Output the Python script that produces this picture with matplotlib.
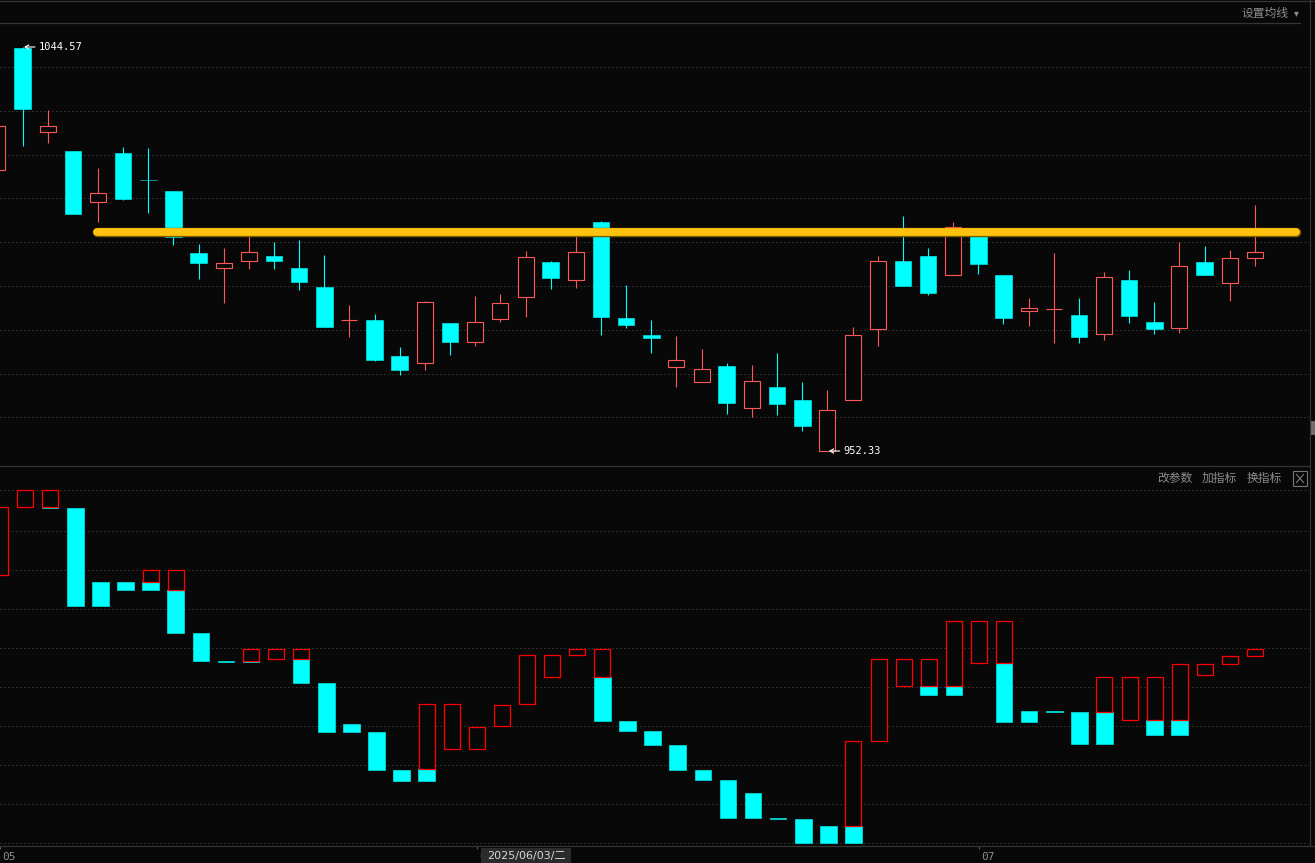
import numpy as np
import matplotlib
matplotlib.use("Agg")
import matplotlib.pyplot as plt
from matplotlib.lines import Line2D
from matplotlib.patches import Rectangle
import matplotlib.patheffects as pe

# daily K-line, bar index -1 .. 49 (2025-05-06 .. 2025-07-16)
opens = [1016.42, 1044.34, 1025.09, 1020.82, 1009.11, 1020.37, 1014.15, 1011.69, 997.54, 994.18,
         995.78, 996.85, 994.11, 989.77, 982.22, 982.24, 974.02, 972.35, 981.55, 977.28,
         982.40, 987.56, 995.48, 991.30, 1004.61, 982.70, 978.81, 971.58, 968.15, 971.74,
         962.22, 966.94, 963.97, 952.33, 963.90, 980.12, 995.71, 996.85, 992.44, 1003.02,
         992.51, 984.36, 984.73, 983.38, 978.97, 991.37, 981.78, 980.34, 995.48, 990.76,
         996.33]
highs = [1028.00, 1044.57, 1030.19, 1020.82, 1016.94, 1021.74, 1021.51, 1011.69, 999.59, 998.68,
         1001.65, 1000.05, 1000.50, 997.08, 985.66, 983.61, 976.07, 986.58, 981.55, 987.72,
         988.17, 997.99, 995.71, 1001.65, 1004.84, 990.23, 982.24, 978.59, 975.62, 972.42,
         971.96, 974.70, 968.08, 966.26, 980.64, 996.85, 1005.98, 998.68, 1004.61, 1003.02,
         992.51, 987.26, 997.54, 987.26, 993.20, 993.65, 986.35, 999.98, 999.13, 998.22,
         1008.43]
lows = [1015.00, 1022.03, 1022.72, 1006.51, 1004.68, 1009.64, 1006.74, 999.36, 991.60, 986.19,
        993.88, 993.88, 989.09, 980.71, 978.43, 972.95, 969.68, 970.82, 974.25, 976.37,
        981.78, 982.99, 989.32, 989.61, 978.81, 980.48, 974.70, 967.01, 968.15, 960.78,
        960.09, 960.55, 956.96, 952.33, 963.90, 976.37, 990.07, 988.02, 992.44, 992.81,
        981.39, 980.94, 977.06, 977.06, 977.74, 981.62, 979.11, 979.34, 992.58, 986.65,
        994.64]
closes = [1026.53, 1030.48, 1026.53, 1006.51, 1011.17, 1009.93, 1014.10, 1001.26, 995.32, 995.25,
          997.76, 995.78, 990.98, 980.71, 982.26, 973.11, 970.82, 986.28, 977.22, 981.71,
          986.05, 996.55, 991.83, 997.76, 982.99, 981.10, 978.13, 973.04, 970.98, 963.36,
          968.24, 963.06, 958.11, 961.62, 978.75, 995.64, 990.07, 988.47, 1003.47, 995.09,
          982.76, 984.98, 984.77, 978.43, 991.99, 983.22, 980.25, 994.50, 992.58, 996.33,
          997.70]

# lower indicator: red hollow part mid..top, cyan part bot..mid
ind_top = [86.15, 90.51, 90.51, 85.97, 67.00, 67.00, 70.00, 70.00, 53.92, 46.82,
           49.74, 49.74, 49.74, 41.10, 30.59, 28.54, 18.79, 35.64, 35.64, 29.74,
           35.38, 48.21, 48.21, 49.74, 49.74, 31.36, 28.79, 25.21, 18.79, 16.23,
           12.90, 6.49, 6.23, 4.44, 26.15, 47.18, 47.18, 47.18, 56.92, 56.92,
           56.92, 33.92, 33.92, 33.70, 42.56, 42.56, 42.56, 45.90, 45.90, 47.95,
           49.74]
ind_mid = [68.72, 86.31, 86.31, 85.97, 67.00, 67.00, 67.08, 65.03, 53.92, 46.82,
           46.82, 47.33, 47.33, 41.10, 30.59, 28.54, 18.79, 18.97, 24.10, 24.10,
           30.00, 35.64, 42.56, 48.41, 42.56, 31.36, 28.79, 25.21, 18.79, 16.23,
           12.90, 6.49, 6.23, 4.44, 4.51, 26.31, 40.41, 40.41, 40.41, 46.31,
           46.31, 33.92, 33.92, 33.70, 33.74, 31.69, 31.69, 31.69, 43.23, 46.05,
           48.10]
ind_bot = [68.72, 86.31, 86.05, 60.85, 60.85, 64.95, 64.95, 53.92, 46.82, 46.56,
           46.56, 47.33, 41.18, 28.62, 28.62, 18.87, 16.05, 16.05, 24.10, 24.10,
           30.00, 35.64, 42.56, 48.41, 31.44, 28.87, 25.28, 18.79, 16.23, 6.49,
           6.49, 6.23, 0.00, 0.00, 0.00, 26.31, 40.41, 38.03, 38.03, 46.31,
           31.10, 31.10, 33.66, 25.46, 25.46, 31.69, 27.77, 27.77, 43.23, 46.05,
           48.10]

price_grid = [960, 970, 980, 990, 1000, 1010, 1020, 1030, 1040]
ind_grid = [0, 10, 20, 30, 40, 50, 60, 70, 80, 90.51]
tick_pos = [-1, 18, 38]
tick_labels = ["05", "06", "07"]
cursor_label = "2025/06/03/二"
level_price = 1002.4          # hand-drawn horizontal line
level_x = (2.95, 50.64)

BG = "#080808"
RED = "#ff5757"
RED2 = "#ff0000"
CYAN = "#00ffff"
GRID = "#4c4c4c"
FRAME = "#353535"
TXT = "#8c8c8c"
CJK = ["Noto Sans CJK SC", "DejaVu Sans"]
W, H = 1315, 863


def fx(px):
    return px / W


def fy(py):
    return 1 - py / H


def base(ax, ylim, grid):
    ax.set_facecolor(BG)
    ax.set_xlim(-0.895, 51.15)
    ax.set_ylim(*ylim)
    for s in ax.spines.values():
        s.set_visible(False)
    ax.set_yticks(grid)
    ax.grid(axis="y", color=GRID, linestyle=(0, (1, 3)), linewidth=0.72)
    ax.set_axisbelow(True)
    ax.tick_params(left=False, labelleft=False, bottom=False, labelbottom=False)


def hline(y, x0, x1):
    fig.add_artist(Line2D([fx(x0), fx(x1)], [fy(y), fy(y)], color=FRAME, lw=0.9))


fig = plt.figure(figsize=(W / 100, H / 100), dpi=100, facecolor=BG)
ax1 = fig.add_axes([0, fy(466.3), 1309 / W, 443 / H])
ax2 = fig.add_axes([0, fy(846.3), 1309 / W, 380 / H])
base(ax1, (948.84, 1049.98), price_grid)
base(ax2, (-0.77, 96.67), ind_grid)

o, h, l, c = map(np.array, (opens, highs, lows, closes))
x = np.arange(len(o)) - 1
up = c > o

# candles
ax1.vlines(x, l, h, colors=np.where(up, RED, CYAN), lw=0.8, zorder=2)
ax1.bar(x[up], (c - o)[up], bottom=o[up], width=0.636, facecolor=BG,
        edgecolor=RED, lw=0.8, zorder=3)
ax1.bar(x[~up], (o - c)[~up], bottom=c[~up], width=0.66, facecolor=CYAN,
        edgecolor=CYAN, lw=0.4, zorder=3)

ax1.plot(level_x, [level_price] * 2, color="#ffc20e", lw=5.6, solid_capstyle="round", zorder=5,
         path_effects=[pe.Stroke(linewidth=6.8, foreground="#7a5a00"), pe.Normal()])

ih, il = int(np.argmax(h)), int(np.argmin(l))
for i, v in ((ih, h[ih]), (il, l[il])):
    ax1.annotate(f"{v:.2f}", xy=(x[i] + 0.06, v), xytext=(15, 0), textcoords="offset pixels",
                 ha="left", va="center", color="white", fontsize=7.5, family="DejaVu Sans Mono",
                 arrowprops=dict(arrowstyle="->,head_length=0.35,head_width=0.2", color="white",
                                 lw=0.8, shrinkA=1, shrinkB=0), zorder=6)

# lower indicator
t, m, b = map(np.array, (ind_top, ind_mid, ind_bot))
red = t > m
cy = m > b
ax2.bar(x[cy], (m - b)[cy], bottom=b[cy], width=0.66, facecolor=CYAN, edgecolor=CYAN,
        lw=0.4, zorder=3)
ax2.bar(x[red], (t - m)[red], bottom=m[red], width=0.636, facecolor=BG, edgecolor=RED2,
        lw=0.9, zorder=4)

ax2.set_xticks(tick_pos)
ax2.tick_params(axis="x", bottom=True, direction="out", length=2.5, width=0.72, color="#5a5a5a")
for p, s in zip(tick_pos, tick_labels):
    ax2.annotate(s, xy=(p, 0), xycoords=ax2.get_xaxis_transform(), xytext=(2.5, -11),
                 textcoords="offset pixels", ha="left", va="center", color=TXT, fontsize=8,
                 family="DejaVu Sans Mono", annotation_clip=False)

# frame lines
hline(1.3, 0, W)
hline(23.3, 0, 1300)
hline(466.3, 0, 1309)
hline(846.3, 0, W)
fig.add_artist(Line2D([fx(1309.5)] * 2, [fy(0), fy(846.3)], color=FRAME, lw=0.9))
fig.add_artist(Rectangle((fx(1311), fy(435)), fx(4), 14 / H, color="#6e6e6e", lw=0))

# header widgets
fig.text(fx(1242), fy(13.3), "设置均线", ha="left", va="center", fontsize=8.5, color=TXT, family=CJK)
fig.text(fx(1296), fy(13.3), "▾", ha="center", va="center", fontsize=7, color=TXT, family="DejaVu Sans")
for px, s in ((1157, "改参数"), (1202, "加指标"), (1247, "换指标")):
    fig.text(fx(px), fy(478.3), s, ha="left", va="center", fontsize=8.5, color=TXT, family=CJK)
fig.add_artist(Rectangle((fx(1293), fy(486)), fx(14), 15 / H, facecolor="none",
                         edgecolor="#777777", lw=0.8))
fig.add_artist(Line2D([fx(1296.5), fx(1303.5)], [fy(474.5), fy(482.5)], color="#888888", lw=0.7))
fig.add_artist(Line2D([fx(1296.5), fx(1303.5)], [fy(482.5), fy(474.5)], color="#888888", lw=0.7))

# crosshair date tag (covers most of the "06" label, as in the terminal)
fig.add_artist(Rectangle((fx(481), 0), fx(90), 15.3 / H, color="#2b2b2b", lw=0, zorder=10))
fig.text(fx(526), fy(856), cursor_label, ha="center", va="center", fontsize=8, color="#d6d6d6",
         family=["DejaVu Sans", "Noto Sans CJK SC"], zorder=11)

fig.savefig("out.png", dpi=100, facecolor=BG)
